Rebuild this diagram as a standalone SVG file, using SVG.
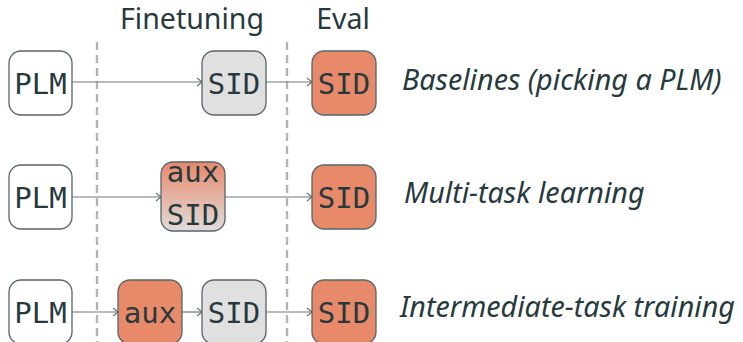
<svg xmlns="http://www.w3.org/2000/svg" width="743" height="342" viewBox="0 0 743 342">
<defs>
<linearGradient id="mix" x1="0" y1="0" x2="0" y2="1">
<stop offset="0" stop-color="#e8896a"/>
<stop offset="1" stop-color="#e0dcdb"/>
</linearGradient>
<marker id="arr" markerWidth="10" markerHeight="10" refX="8" refY="5" orient="auto" markerUnits="userSpaceOnUse">
<path d="M3,1 L8,5 L3,9" fill="none" stroke="#5f6e6e" stroke-width="1.1"/>
</marker>
</defs>
<style>
.box{stroke:#56666a;stroke-width:1.3}
.plm{fill:#ffffff}
.gray{fill:#e0e0e0}
.org{fill:#e8896a}
.mono{font-family:"DejaVu Sans Mono",monospace;font-size:29px;fill:#263a3d;text-anchor:middle}
.head{font-family:"Noto Sans",sans-serif;font-size:28.5px;fill:#263a3d;text-anchor:middle}
.lab{font-family:"Noto Sans",sans-serif;font-style:italic;font-size:28.7px;fill:#263a3d}
.dash{stroke:#b3b3b3;stroke-width:2.4;stroke-dasharray:8 5;fill:none}
.conn{stroke:#6b7a7b;stroke-width:1.2;fill:none}
</style>
<rect width="743" height="342" fill="#ffffff"/>
<g id="guides">
<line class="dash" x1="97" y1="42" x2="97" y2="342"/>
<line class="dash" x1="287" y1="42" x2="287" y2="342"/>
</g>
<g id="headers">
<text class="head" x="192" y="29">Finetuning</text>
<text class="head" x="343" y="29">Eval</text>
</g>
<g id="connectors">
<line class="conn" x1="72" y1="82" x2="202" y2="82" marker-end="url(#arr)"/>
<line class="conn" x1="266" y1="82" x2="312" y2="82" marker-end="url(#arr)"/>
<line class="conn" x1="72" y1="197" x2="161" y2="197" marker-end="url(#arr)"/>
<line class="conn" x1="225" y1="197" x2="312" y2="197" marker-end="url(#arr)"/>
<line class="conn" x1="72" y1="312" x2="118" y2="312" marker-end="url(#arr)"/>
<line class="conn" x1="182" y1="312" x2="202" y2="312" marker-end="url(#arr)"/>
<line class="conn" x1="266" y1="312" x2="312" y2="312" marker-end="url(#arr)"/>
</g>
<g id="row1-plm"><rect class="box plm" x="9" y="51" width="63" height="64" rx="12"/><text class="mono" x="40.5" y="94">PLM</text></g>
<g id="row1-sid-ft"><rect class="box gray" x="202" y="51" width="64" height="64" rx="12"/><text class="mono" x="234" y="94">SID</text></g>
<g id="row1-sid-eval"><rect class="box org" x="312" y="51" width="64" height="64" rx="12"/><text class="mono" x="344" y="94">SID</text></g>
<g id="row1-label"><text class="lab" x="402" y="90">Baselines (picking a PLM)</text></g>

<g id="row2-plm"><rect class="box plm" x="9" y="165" width="63" height="64" rx="12"/><text class="mono" x="40.5" y="208">PLM</text></g>
<g id="row2-auxsid"><rect class="box" fill="url(#mix)" x="161" y="162" width="64" height="69" rx="12"/><text class="mono" x="193" y="182">aux</text><text class="mono" x="193" y="225">SID</text></g>
<g id="row2-sid-eval"><rect class="box org" x="312" y="165" width="64" height="64" rx="12"/><text class="mono" x="344" y="208">SID</text></g>
<g id="row2-label"><text class="lab" x="404" y="203">Multi-task learning</text></g>

<g id="row3-plm"><rect class="box plm" x="9" y="280" width="63" height="64" rx="12"/><text class="mono" x="40.5" y="323">PLM</text></g>
<g id="row3-aux"><rect class="box org" x="118" y="280" width="64" height="64" rx="12"/><text class="mono" x="150" y="323">aux</text></g>
<g id="row3-sid-ft"><rect class="box gray" x="202" y="280" width="64" height="64" rx="12"/><text class="mono" x="234" y="323">SID</text></g>
<g id="row3-sid-eval"><rect class="box org" x="312" y="280" width="64" height="64" rx="12"/><text class="mono" x="344" y="323">SID</text></g>
<g id="row3-label"><text class="lab" x="400" y="317">Intermediate-task training</text></g>
</svg>
